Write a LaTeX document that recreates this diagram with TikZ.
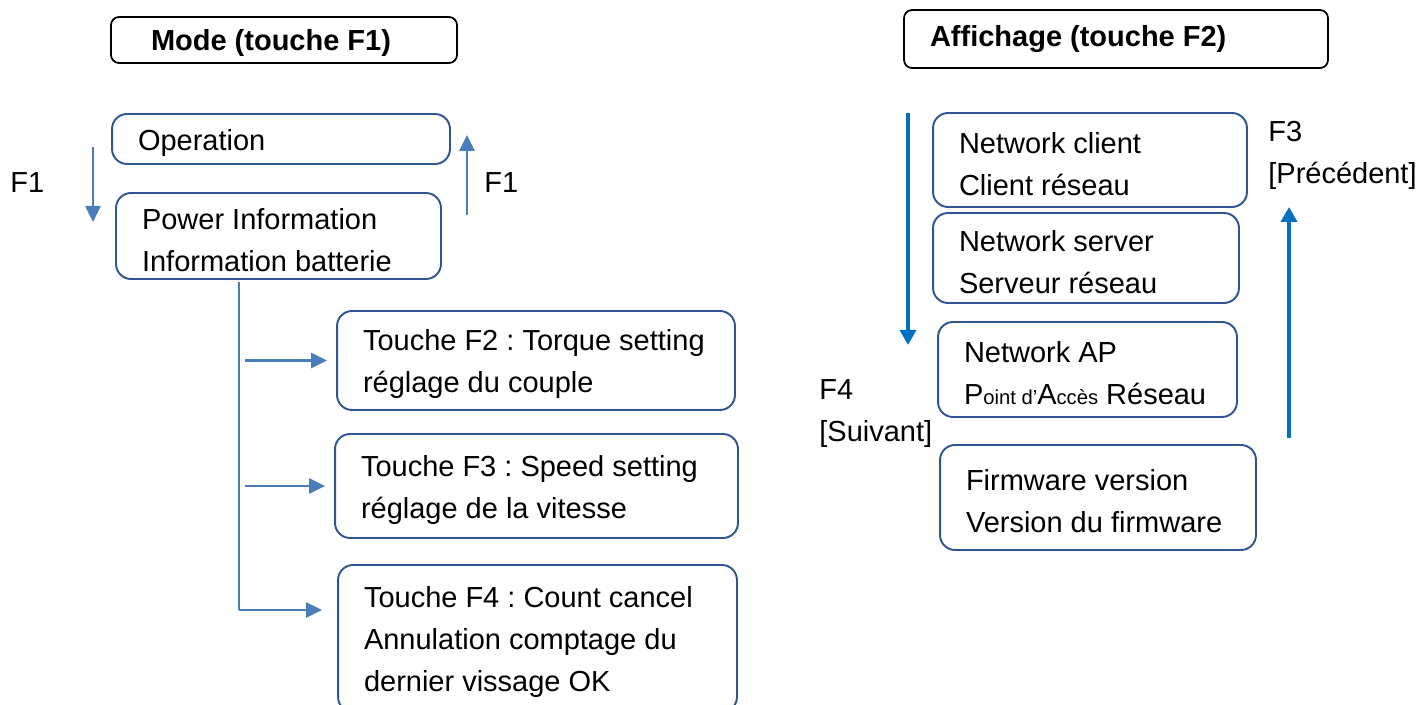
\documentclass[tikz,border=0pt]{standalone}
\usepackage{fontspec}
\setmainfont{Liberation Sans}
\usetikzlibrary{arrows.meta}
\definecolor{cadre}{HTML}{2F5597}
\definecolor{fleche}{HTML}{4A7EBB}
\definecolor{flechebleue}{HTML}{0070C0}
\newcommand{\taille}{\fontsize{16.5pt}{23.9pt}\selectfont\frenchspacing}
\newcommand{\petit}{\fontsize{11.5pt}{14pt}\selectfont}
\tikzset{
  menu/.style={draw=cadre, line width=1.1pt, rounded corners=0.3cm,
    align=flush left, inner xsep=0.52cm, inner ysep=0pt,
    execute at begin node={\rule{0pt}{0.58cm}}},
  titre/.style={draw=black, line width=1pt, rounded corners=0.16cm,
    align=flush left, inner ysep=0pt, font=\taille\bfseries},
  etiq/.style={anchor=west, inner sep=0pt, align=flush left},
  lien/.style={draw=fleche, line width=1.5pt,
    -{Triangle[length=0.32cm,width=0.3cm]}},
  trait/.style={draw=fleche, line width=1.1pt},
  grosse/.style={draw=flechebleue, line width=2.3pt,
    -{Triangle[length=0.3cm,width=0.32cm]}}
}

\begin{document}
\begin{tikzpicture}[x=0.02cm,y=-0.02cm,font=\taille]
  \clip (0,0) rectangle (1421,705);

  %% Mode (F1)
  \node[titre, inner xsep=0.8cm, text width=5.32cm, minimum height=0.92cm,
    execute at begin node={\rule{0pt}{0.54cm}}]
    (mode) at (284,40) {Mode (touche F1)};

  \node[menu, text width=5.72cm, minimum height=1.0cm] (op) at (281,139)
    {Operation};
  \node[menu, text width=5.46cm, minimum height=1.72cm] (pow) at (278.5,236)
    {Power Information\\Information batterie};

  \coordinate (h1) at (93,147);
  \coordinate (b1) at (93,222);
  \coordinate (b2) at (467,215);
  \coordinate (h2) at (467,135);
  \draw[lien] (h1) -- (b1);
  \draw[lien] (b2) -- (h2);
  \node[etiq] (f1g) at (10,183) {F1};
  \node[etiq] (f1d) at (484,183) {F1};

  \node[menu, text width=6.92cm, minimum height=1.98cm] (f2) at (536,360.5)
    {Touche F2 : Torque setting\\réglage du couple};
  \node[menu, text width=7.02cm, minimum height=2.08cm] (f3) at (536.5,486)
    {Touche F3 : Speed setting\\réglage de la vitesse};
  \node[menu, text width=6.94cm, minimum height=2.94cm] (f4) at (537.5,638.5)
    {Touche F4 : Count cancel\\Annulation comptage du\\dernier vissage OK};

  % branches
  \coordinate (tronc) at (239,282);
  \coordinate (bas) at (239,610);
  \draw[trait] (tronc) -- (bas);
  \draw[lien, shorten <=0.12cm, shorten >=0.18cm] (tronc |- f2.west) -- (f2.west);
  \draw[lien, shorten <=0.12cm, shorten >=0.18cm] (tronc |- f3.west) -- (f3.west);
  \draw[lien, shorten >=0.3cm] (bas) -- (bas -| f4.west);

  %% Affichage (F2)
  \node[titre, inner xsep=0.52cm, text width=7.44cm, minimum height=1.16cm]
    (aff) at (1116,39) {Affichage (touche F2)};

  \node[menu, text width=5.24cm, minimum height=1.88cm] (nc) at (1090,160)
    {Network client\\Client réseau};
  \node[menu, text width=5.08cm, minimum height=1.8cm] (ns) at (1086,258)
    {Network server\\Serveur réseau};
  \node[menu, text width=4.94cm, minimum height=1.9cm] (nap) at (1087.5,369.5)
    {Network AP\\\mbox{P{\petit oint d’}A{\petit ccès} Réseau}};
  \node[menu, text width=5.28cm, minimum height=2.1cm] (fw) at (1098,497.5)
    {Firmware version\\Version du firmware};

  \coordinate (h3) at (908,113);
  \coordinate (b3) at (908,345);
  \coordinate (b4) at (1289,438);
  \coordinate (h4) at (1289,207);
  \draw[grosse] (h3) -- (b3);
  \draw[grosse] (b4) -- (h4);
  \node[etiq] (f3lab) at (1268,155) {F3\\{[Précédent]}};
  \node[etiq] (f4lab) at (819,414) {F4\\{[Suivant]}};
\end{tikzpicture}
\end{document}
